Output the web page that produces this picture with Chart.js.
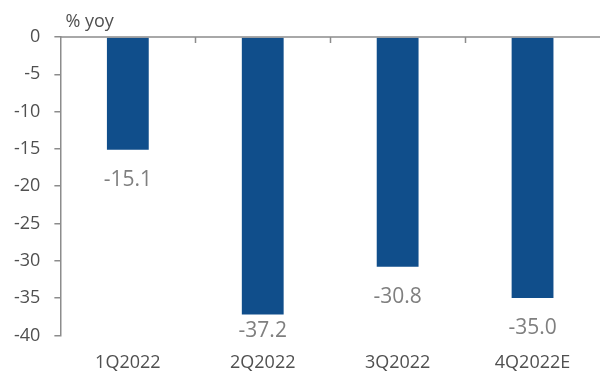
<!DOCTYPE html>
<html>
<head>
<meta charset="utf-8">
<script src="https://cdn.jsdelivr.net/npm/chart.js@4"></script>
<style>
  html, body { margin: 0; padding: 0; background: #fff; }
  #wrap { width: 600px; height: 372px; position: relative; }
</style>
</head>
<body>
<div id="wrap"><canvas id="myChart"></canvas></div>
<script>
// chart data
const quarters = ['1Q2022', '2Q2022', '3Q2022', '4Q2022E'];
const yoyValues = [-15.1, -37.2, -30.8, -35.0];
const unitLabel = '% yoy';

const FONT = '"Open Sans", sans-serif';
const AXIS_GREY = '#8c8c8c';
const TEXT_GREY = '#505050';

// zero line + category tick marks, value labels under the bars, unit label
const extrasPlugin = {
  id: 'extras',
  afterDatasetsDraw(chart) {
    const ctx = chart.ctx;
    const x = chart.scales.x;
    const y = chart.scales.y;
    const area = chart.chartArea;
    const y0 = y.getPixelForValue(0);

    ctx.save();
    ctx.strokeStyle = AXIS_GREY;
    ctx.lineWidth = 1.5;
    ctx.beginPath();
    ctx.moveTo(area.left, y0);
    ctx.lineTo(area.right, y0);
    // ticks between categories
    for (let i = 1; i < quarters.length; i++) {
      const px = Math.round((x.getPixelForValue(i - 1) + x.getPixelForValue(i)) / 2) + 0.5;
      ctx.moveTo(px, y0);
      ctx.lineTo(px, y0 + 6);
    }
    ctx.stroke();

    // value labels (kept just inside the bottom of the plot)
    ctx.fillStyle = '#7f7f7f';
    ctx.font = '21px ' + FONT;
    ctx.textAlign = 'center';
    ctx.textBaseline = 'middle';
    const meta = chart.getDatasetMeta(0);
    meta.data.forEach((bar, i) => {
      let ly = bar.y + 30;
      if (ly > area.bottom - 4) ly = area.bottom - 4;
      ctx.fillText(yoyValues[i].toFixed(1), bar.x, ly);
    });

    // unit label
    ctx.fillStyle = TEXT_GREY;
    ctx.font = '18px ' + FONT;
    ctx.textAlign = 'left';
    ctx.textBaseline = 'middle';
    ctx.fillText(unitLabel, area.left + 5, y0 - 15);
    ctx.restore();
  }
};

new Chart(document.getElementById('myChart'), {
  type: 'bar',
  data: {
    labels: quarters,
    datasets: [{
      data: yoyValues,
      backgroundColor: '#104e8b',
      borderWidth: 0,
      barPercentage: 0.31,
      categoryPercentage: 1.0
    }]
  },
  options: {
    responsive: true,
    maintainAspectRatio: false,
    animation: false,
    layout: { padding: { top: 37, right: 0, left: 0, bottom: -19 } },
    plugins: {
      legend: { display: false },
      tooltip: { enabled: false }
    },
    scales: {
      x: {
        grid: { display: false, drawTicks: false, tickLength: 0 },
        border: { display: false },
        ticks: {
          color: TEXT_GREY,
          font: { family: FONT, size: 18 },
          padding: 17,
          maxRotation: 0
        }
      },
      y: {
        min: -40,
        max: 0,
        ticks: {
          stepSize: 5,
          color: TEXT_GREY,
          font: { family: FONT, size: 18 },
          padding: 14
        },
        grid: {
          drawOnChartArea: false,
          drawTicks: true,
          tickLength: 6,
          color: AXIS_GREY,
          lineWidth: 1.5
        },
        border: { display: true, color: AXIS_GREY, width: 1.5 }
      }
    }
  },
  plugins: [extrasPlugin]
});
</script>
</body>
</html>
